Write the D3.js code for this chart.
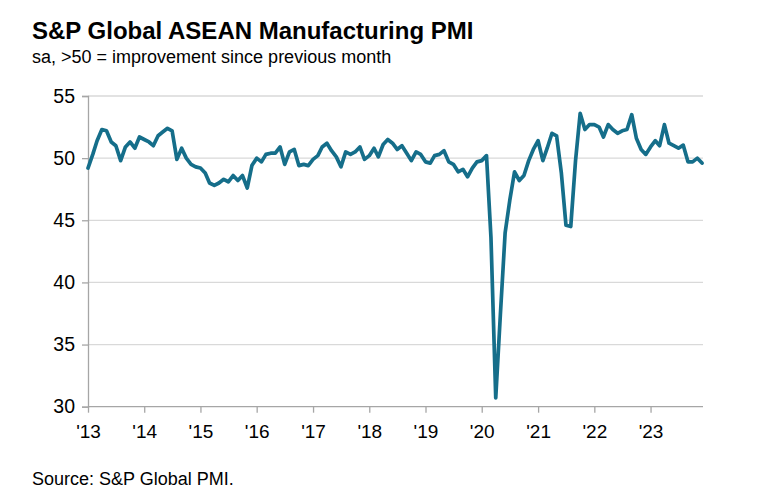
<!DOCTYPE html>
<html>
<head>
<meta charset="utf-8">
<script src="https://cdn.jsdelivr.net/npm/d3@7"></script>
<style>
  html, body { margin: 0; padding: 0; background: #ffffff; }
  svg { display: block; }
  text { font-family: Arial, "Liberation Sans", Helvetica, sans-serif; fill: #000; }
</style>
</head>
<body>
<svg id="chart" width="765" height="496"></svg>
<script>
// ---- data (monthly, Jan 2013 - Dec 2023) ----
const startYear = 2013;
const pmi2013 = [49.2, 50.3, 51.4, 52.3, 52.2, 51.3, 51.0, 49.8, 50.9, 51.3, 50.8, 51.7];
const pmi2014 = [51.5, 51.3, 51.0, 51.8, 52.1, 52.4, 52.2, 49.9, 50.8, 50.0, 49.5, 49.3];
const pmi2015 = [49.2, 48.8, 48.0, 47.8, 48.0, 48.3, 48.1, 48.6, 48.2, 48.6, 47.6, 49.4];
const pmi2016 = [50.0, 49.7, 50.3, 50.4, 50.4, 50.9, 49.5, 50.5, 50.7, 49.4, 49.5, 49.4];
const pmi2017 = [49.9, 50.2, 50.9, 51.2, 50.6, 50.1, 49.3, 50.5, 50.3, 50.5, 50.9, 49.9];
const pmi2018 = [50.2, 50.8, 50.1, 51.1, 51.5, 51.2, 50.7, 51.0, 50.4, 49.8, 50.5, 50.3];
const pmi2019 = [49.7, 49.6, 50.2, 50.3, 50.6, 49.7, 49.5, 48.9, 49.1, 48.5, 49.2, 49.7];
const pmi2020 = [49.8, 50.2, 43.6, 30.7, 37.4, 44.0, 46.6, 48.9, 48.2, 48.6, 49.8, 50.7];
const pmi2021 = [51.4, 49.8, 50.8, 52.0, 51.8, 48.8, 44.6, 44.5, 49.8, 53.6, 52.3, 52.7];
const pmi2022 = [52.7, 52.5, 51.7, 52.7, 52.3, 52.0, 52.2, 52.3, 53.5, 51.6, 50.7, 50.3];
const pmi2023 = [50.9, 51.4, 51.0, 52.7, 51.2, 51.0, 50.8, 51.05, 49.7, 49.7, 50.0, 49.6];

const yearTickLabels = ["'13","'14","'15","'16","'17","'18","'19","'20","'21","'22","'23"];
const yTickValues = [30, 35, 40, 45, 50, 55];

const title = "S&P Global ASEAN Manufacturing PMI";
const subtitle = "sa, >50 = improvement since previous month";
const source = "Source: S&P Global PMI.";

// ---- build series ----
const allValues = [].concat(pmi2013, pmi2014, pmi2015, pmi2016, pmi2017, pmi2018,
                            pmi2019, pmi2020, pmi2021, pmi2022, pmi2023);
const series = allValues.map((v, i) => ({ date: new Date(startYear, i, 1), value: v }));

// ---- layout ----
const plot = { left: 88, right: 702, top: 96, bottom: 406.7 };
const svg = d3.select("#chart");

const x = d3.scaleTime()
  .domain([series[0].date, series[series.length - 1].date])
  .range([plot.left, plot.right]);
const y = d3.scaleLinear().domain([30, 55]).range([plot.bottom, plot.top]);

const axisColor = "#a6a6a6";
const gridColor = "#d9d9d9";

// gridlines
svg.append("g").selectAll("line")
  .data(yTickValues.filter(v => v > 30))
  .join("line")
  .attr("x1", plot.left).attr("x2", plot.right + 1)
  .attr("y1", d => y(d)).attr("y2", d => y(d))
  .attr("stroke", gridColor).attr("stroke-width", 1.3);

// y axis
const yAxis = d3.axisLeft(y).tickValues(yTickValues).tickSize(6).tickPadding(7)
  .tickFormat(d3.format("d"));
const gy = svg.append("g").attr("transform", `translate(${plot.left},0)`).call(yAxis);
gy.select(".domain").attr("stroke", axisColor).attr("stroke-width", 1.3);
gy.selectAll(".tick line").attr("stroke", axisColor).attr("stroke-width", 1.3);
gy.selectAll(".tick text").style("font-size", "19.5px").attr("fill", "#000")
  .style("font-family", "Arial, 'Liberation Sans', sans-serif");

// x axis
const yearTicks = yearTickLabels.map((_, i) => new Date(startYear + i, 0, 1));
const xAxis = d3.axisBottom(x).tickValues(yearTicks).tickSize(6).tickPadding(12)
  .tickFormat((d, i) => yearTickLabels[i]);
const gx = svg.append("g").attr("transform", `translate(0,${plot.bottom})`).call(xAxis);
gx.select(".domain").attr("stroke", axisColor).attr("stroke-width", 1.3)
  .attr("d", `M${plot.left},0H${plot.right + 1}`);
gx.selectAll(".tick line").attr("stroke", axisColor).attr("stroke-width", 1.3);
gx.selectAll(".tick text").style("font-size", "19px").attr("fill", "#000")
  .style("font-family", "Arial, 'Liberation Sans', sans-serif");

// line
const line = d3.line().x(d => x(d.date)).y(d => y(d.value));
svg.append("path")
  .datum(series)
  .attr("d", line)
  .attr("fill", "none")
  .attr("stroke", "#156e8a")
  .attr("stroke-width", 3.7)
  .attr("stroke-linejoin", "round")
  .attr("stroke-linecap", "round");

// titles
svg.append("text").attr("x", 32).attr("y", 39)
  .style("font-size", "24px").style("font-weight", "bold").text(title);
svg.append("text").attr("x", 32).attr("y", 63)
  .style("font-size", "18px").text(subtitle);
svg.append("text").attr("x", 32).attr("y", 485)
  .style("font-size", "18px").text(source);
</script>
</body>
</html>
